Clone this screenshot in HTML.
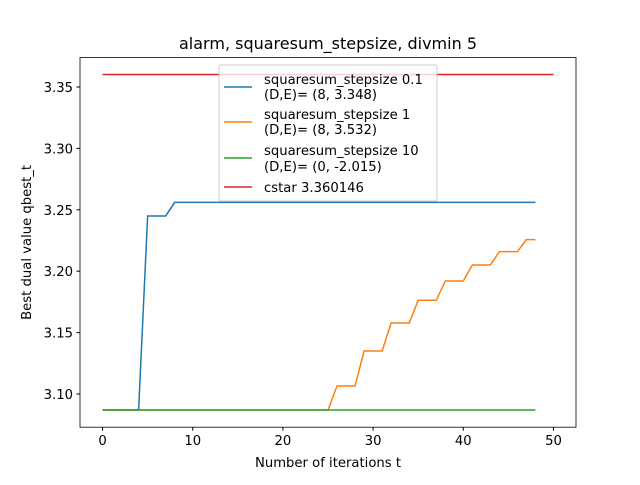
<!DOCTYPE html>
<html><head><meta charset="utf-8"><style>
body{margin:0;background:#fff}
svg text{font-family:"DejaVu Sans","Liberation Sans",sans-serif;fill:#000}
</style></head><body>
<svg width="640" height="480">
<rect width="640" height="480" fill="#fff"/>
<g id="axes"></g>
<g id="lines"></g>
<g id="legend"></g>
</svg>
<script>
const tBlue=[0,1,2,3,4,5,6,7,8,9,10,11,12,13,14,15,16,17,18,19,20,21,22,23,24,25,26,27,28,29,30,31,32,33,34,35,36,37,38,39,40,41,42,43,44,45,46,47,48];
const vBlue=[3.087,3.087,3.087,3.087,3.087,3.245,3.245,3.245,3.256,3.256,3.256,3.256,3.256,3.256,3.256,3.256,3.256,3.256,3.256,3.256,3.256,3.256,3.256,3.256,3.256,3.256,3.256,3.256,3.256,3.256,3.256,3.256,3.256,3.256,3.256,3.256,3.256,3.256,3.256,3.256,3.256,3.256,3.256,3.256,3.256,3.256,3.256,3.256,3.256];
const vOrange=[3.087,3.087,3.087,3.087,3.087,3.087,3.087,3.087,3.087,3.087,3.087,3.087,3.087,3.087,3.087,3.087,3.087,3.087,3.087,3.087,3.087,3.087,3.087,3.087,3.087,3.087,3.1065,3.1065,3.1065,3.135,3.135,3.135,3.1578,3.1578,3.1578,3.1763,3.1763,3.1763,3.192,3.192,3.192,3.205,3.205,3.205,3.2159,3.2159,3.2159,3.2257,3.2257];
const vGreen=tBlue.map(()=>3.087);
const cstarT=[0,50];
const cstarV=[3.360146,3.360146];
const xTicks=[0,10,20,30,40,50];
const yTicks=[3.10,3.15,3.20,3.25,3.30,3.35];
const legendLabels=[["squaresum_stepsize 0.1","(D,E)= (8, 3.348)"],["squaresum_stepsize 1","(D,E)= (8, 3.532)"],["squaresum_stepsize 10","(D,E)= (0, -2.015)"],["cstar 3.360146"]];
const colors=['#1f77b4','#ff7f0e','#2ca02c','#d62728'];
const L=80,R=576,T=57.6,B=427.2;
const X=t=>L+(t+2.5)/55*(R-L);
const Y=v=>394-(v-3.10)/0.05*61.4;
const ns='http://www.w3.org/2000/svg';
function mk(tag,parent,attrs){const e=document.createElementNS(ns,tag);for(const k in attrs)e.setAttribute(k,attrs[k]);parent.appendChild(e);return e;}
const ax=document.getElementById('axes'),ln=document.getElementById('lines'),lg=document.getElementById('legend');
const FS=13.2;
xTicks.forEach(t=>{const l=mk('line',ax,{x1:X(t),x2:X(t),y1:B,y2:B+3.5,stroke:'#000'});

const tx=mk('text',ax,{x:X(t),y:B+18,'font-size':FS,'text-anchor':'middle'});tx.textContent=t;
});
yTicks.forEach(v=>{const l=mk('line',ax,{x1:L-3.5,x2:L,y1:Y(v),y2:Y(v),stroke:'#000'});

const tx=mk('text',ax,{x:L-7,y:Y(v)+5,'font-size':FS,'text-anchor':'end'});tx.textContent=v.toFixed(2);
});
const series=[[tBlue,vBlue],[tBlue,vOrange],[tBlue,vGreen],[cstarT,cstarV]];
const sNames=['series-stepsize-0.1','series-stepsize-1','series-stepsize-10','cstar-line'];
series.forEach((s,i)=>{const p=mk('polyline',ln,{points:s[0].map((t,j)=>X(t)+','+Y(s[1][j])).join(' '),fill:'none',stroke:colors[i],'stroke-width':1.5});
});
const fr=mk('rect',ax,{x:L,y:T,width:R-L,height:B-T,fill:'none',stroke:'#000','stroke-width':0.8});

const t1=mk('text',ax,{x:(L+R)/2,y:49,'font-size':16,'text-anchor':'middle'});t1.textContent='alarm, squaresum_stepsize, divmin 5';

const t2=mk('text',ax,{x:(L+R)/2,y:467,'font-size':FS,'text-anchor':'middle'});t2.textContent='Number of iterations t';

const t3=mk('text',ax,{x:31,y:(T+B)/2,'font-size':FS,'text-anchor':'middle',transform:'rotate(-90 31 '+(T+B)/2+')'});t3.textContent='Best dual value qbest_t';

const lb=mk('rect',lg,{x:219,y:65,width:218,height:136,fill:'#fff','fill-opacity':0.8,stroke:'#ccc',rx:2});

const swY=[87,122,158,187];
const txY=[[79,94],[114,129],[150,166],[187]];
legendLabels.forEach((lab,i)=>{
const ll=mk('line',lg,{x1:224,x2:252,y1:swY[i],y2:swY[i],stroke:colors[i],'stroke-width':1.5});

lab.forEach((s,k)=>{const tx=mk('text',lg,{x:264,y:txY[i][k]+5,'font-size':FS});tx.textContent=s;
});});
</script>
</body></html>
